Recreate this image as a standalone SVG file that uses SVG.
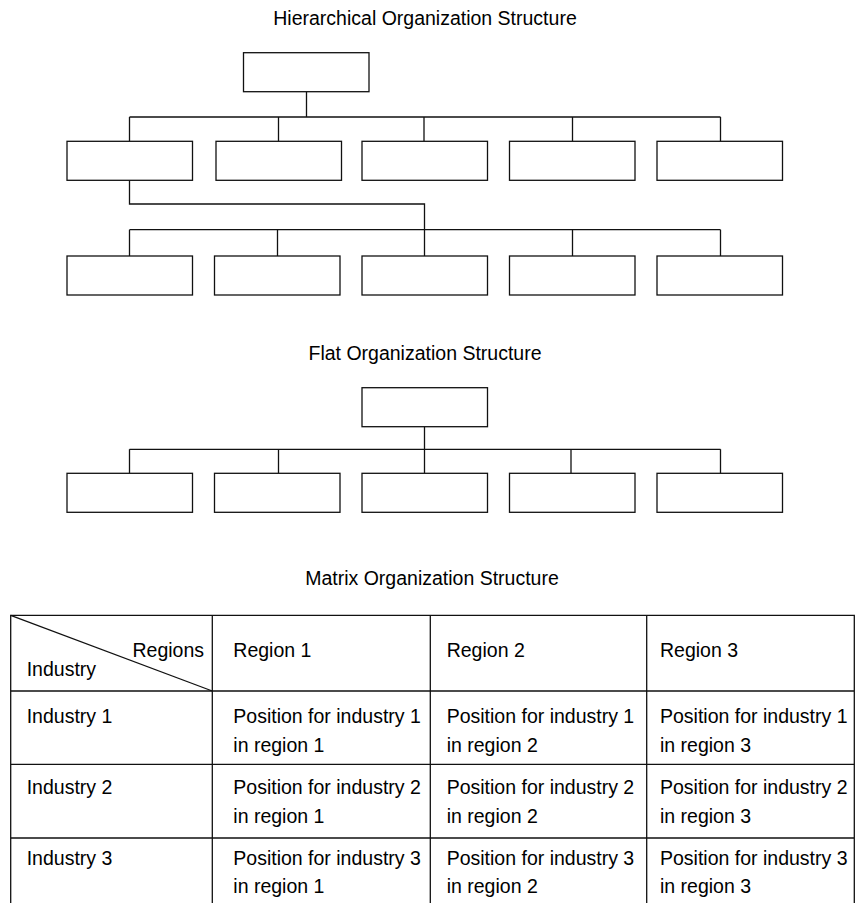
<svg xmlns="http://www.w3.org/2000/svg" width="856" height="903" viewBox="0 0 856 903">
  <style>
    .box { fill: #fff; stroke: #111; stroke-width: 1.3; }
    .wire { fill: none; stroke: #111; stroke-width: 1.3; }
    .grid { fill: none; stroke: #111; stroke-width: 1.3; }
    .title { font-family: "Liberation Sans", Arial, sans-serif; font-size: 19.5px; fill: #000; text-anchor: middle; }
    .cell { font-family: "Liberation Sans", Arial, sans-serif; font-size: 19.5px; fill: #000; }
  </style>
  <rect width="856" height="903" fill="#fff"/>

  <!-- Hierarchical chart -->
  <text class="title" x="425" y="24.5">Hierarchical Organization Structure</text>
  <g id="connectors-hier">
    <path class="wire" d="M306.5 91.7 V117 M129.5 117 H720.5 M129.5 117 V141.3 M278.5 117 V141.3 M424 117 V141.3 M572.5 117 V141.3 M720.5 117 V141.3"/>
    <path class="wire" d="M129.5 180.3 V204 H424.5 V256"/>
    <path class="wire" d="M129.5 229.7 H720.5 M129.5 229.7 V256 M277.5 229.7 V256 M572.5 229.7 V256 M720.5 229.7 V256"/>
  </g>
  <g id="h-root"><rect class="box" x="243.5" y="52.7" width="125.5" height="39"/></g>
  <g id="h-a1"><rect class="box" x="67" y="141.3" width="125.5" height="39"/></g>
  <g id="h-a2"><rect class="box" x="216" y="141.3" width="125.5" height="39"/></g>
  <g id="h-a3"><rect class="box" x="362" y="141.3" width="125.5" height="39"/></g>
  <g id="h-a4"><rect class="box" x="509.5" y="141.3" width="125.5" height="39"/></g>
  <g id="h-a5"><rect class="box" x="657" y="141.3" width="125.5" height="39"/></g>
  <g id="h-b1"><rect class="box" x="67" y="256" width="125.5" height="39"/></g>
  <g id="h-b2"><rect class="box" x="214.5" y="256" width="125.5" height="39"/></g>
  <g id="h-b3"><rect class="box" x="362" y="256" width="125.5" height="39"/></g>
  <g id="h-b4"><rect class="box" x="509.5" y="256" width="125.5" height="39"/></g>
  <g id="h-b5"><rect class="box" x="657" y="256" width="125.5" height="39"/></g>

  <!-- Flat chart -->
  <text class="title" x="425" y="359.5">Flat Organization Structure</text>
  <g id="connectors-flat">
    <path class="wire" d="M424.5 426.7 V449.3 M129.5 449.3 H720.5 M129.5 449.3 V473.3 M278.5 449.3 V473.3 M424.5 449.3 V473.3 M571 449.3 V473.3 M720.5 449.3 V473.3"/>
  </g>
  <g id="f-root"><rect class="box" x="362" y="387.7" width="125.5" height="39"/></g>
  <g id="f-1"><rect class="box" x="67" y="473.3" width="125.5" height="39"/></g>
  <g id="f-2"><rect class="box" x="214.5" y="473.3" width="125.5" height="39"/></g>
  <g id="f-3"><rect class="box" x="362" y="473.3" width="125.5" height="39"/></g>
  <g id="f-4"><rect class="box" x="509.5" y="473.3" width="125.5" height="39"/></g>
  <g id="f-5"><rect class="box" x="657" y="473.3" width="125.5" height="39"/></g>

  <!-- Matrix table -->
  <text class="title" x="432" y="585">Matrix Organization Structure</text>
  <g id="matrix">
    <path class="grid" d="M10.7 910 V615.3 H854.3 V910 M10.7 691 H854.3 M10.7 764.3 H854.3 M10.7 838 H854.3 M212.3 615.3 V910 M430.3 615.3 V910 M646.7 615.3 V910"/>
    <path class="grid" d="M10.7 615.3 L212.3 691"/>
    <text class="cell" x="204" y="657.3" text-anchor="end">Regions</text>
    <text class="cell" x="26.7" y="676">Industry</text>
    <text class="cell" x="233.3" y="657.3">Region 1</text>
    <text class="cell" x="446.7" y="657.3">Region 2</text>
    <text class="cell" x="660" y="657.3">Region 3</text>

    <text class="cell" x="26.7" y="723.3">Industry 1</text>
    <text class="cell" x="233.3" y="723.3">Position for industry 1</text>
    <text class="cell" x="233.3" y="752.3">in region 1</text>
    <text class="cell" x="446.7" y="723.3">Position for industry 1</text>
    <text class="cell" x="446.7" y="752.3">in region 2</text>
    <text class="cell" x="660" y="723.3">Position for industry 1</text>
    <text class="cell" x="660" y="752.3">in region 3</text>

    <text class="cell" x="26.7" y="793.7">Industry 2</text>
    <text class="cell" x="233.3" y="793.7">Position for industry 2</text>
    <text class="cell" x="233.3" y="823">in region 1</text>
    <text class="cell" x="446.7" y="793.7">Position for industry 2</text>
    <text class="cell" x="446.7" y="823">in region 2</text>
    <text class="cell" x="660" y="793.7">Position for industry 2</text>
    <text class="cell" x="660" y="823">in region 3</text>

    <text class="cell" x="26.7" y="865">Industry 3</text>
    <text class="cell" x="233.3" y="865">Position for industry 3</text>
    <text class="cell" x="233.3" y="893.3">in region 1</text>
    <text class="cell" x="446.7" y="865">Position for industry 3</text>
    <text class="cell" x="446.7" y="893.3">in region 2</text>
    <text class="cell" x="660" y="865">Position for industry 3</text>
    <text class="cell" x="660" y="893.3">in region 3</text>
  </g>
</svg>
